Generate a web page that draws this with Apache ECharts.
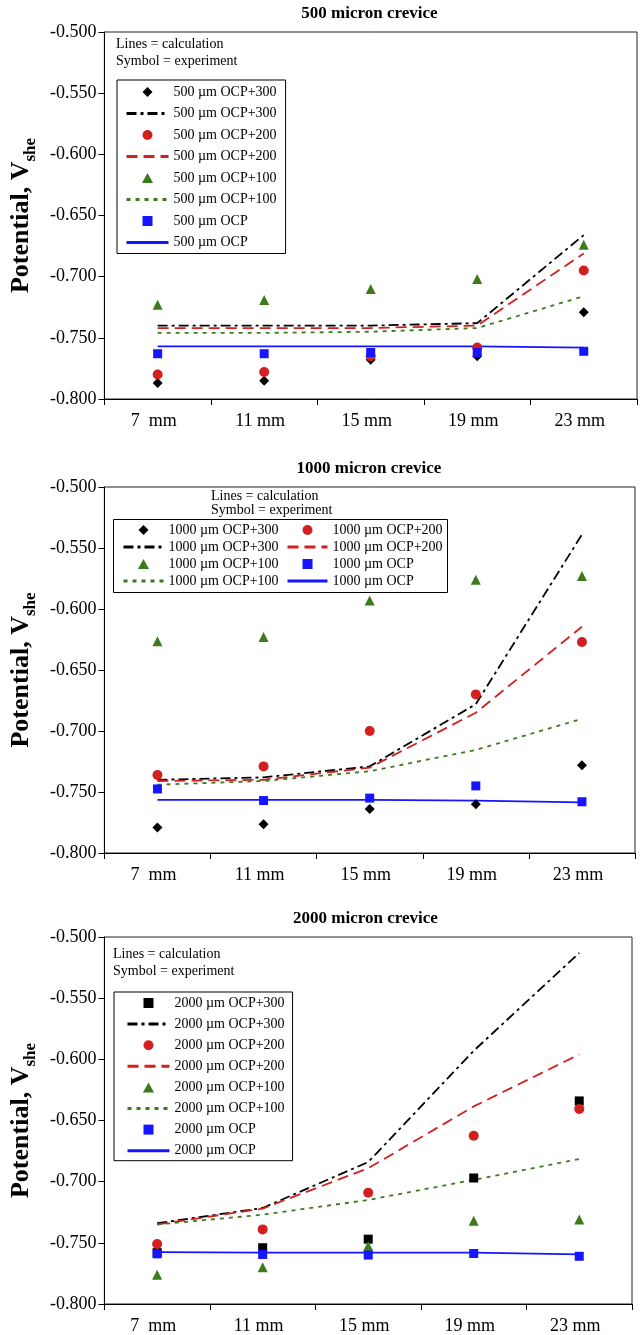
<!DOCTYPE html>
<html>
<head>
<meta charset="utf-8">
<script src="https://cdn.jsdelivr.net/npm/echarts@6/dist/echarts.min.js"></script>
<style>html,body{margin:0;padding:0;background:#fff;}#c{width:640px;height:1335px;}</style>
</head>
<body>
<div id="c"></div>
<script>
// ---------- data ----------
const categories = ['7  mm', '11 mm', '15 mm', '19 mm', '23 mm'];
const yMin = -0.8, yMax = -0.5, yStep = 0.05;
const panelTitles = ['500 micron crevice', '1000 micron crevice', '2000 micron crevice'];
const panelSizes = ['500', '1000', '2000'];

// 500 micron
const exp500_300 = [-0.787, -0.785, -0.768, -0.765, -0.729];
const calc500_300 = [-0.740, -0.740, -0.740, -0.738, -0.666];
const exp500_200 = [-0.780, -0.778, -0.765, -0.758, -0.695];
const calc500_200 = [-0.742, -0.742, -0.742, -0.740, -0.681];
const exp500_100 = [-0.723, -0.719, -0.710, -0.702, -0.674];
const calc500_100 = [-0.746, -0.746, -0.745, -0.742, -0.716];
const exp500_ocp = [-0.763, -0.763, -0.762, -0.762, -0.761];
const calc500_ocp = [-0.757, -0.757, -0.757, -0.757, -0.758];

// 1000 micron
const exp1000_300 = [-0.779, -0.7765, -0.764, -0.760, -0.728];
const calc1000_300 = [-0.740, -0.738, -0.729, -0.678, -0.539];
const exp1000_200 = [-0.736, -0.729, -0.700, -0.670, -0.627];
const calc1000_200 = [-0.741, -0.740, -0.730, -0.685, -0.6145];
const exp1000_100 = [-0.6265, -0.623, -0.593, -0.576, -0.573];
const calc1000_100 = [-0.744, -0.741, -0.733, -0.7155, -0.690];
const exp1000_ocp = [-0.7475, -0.757, -0.755, -0.745, -0.758];
const calc1000_ocp = [-0.7565, -0.7565, -0.7565, -0.757, -0.7585];

// 2000 micron
const exp2000_300 = [-0.758, -0.754, -0.747, -0.697, -0.634];
const calc2000_300 = [-0.734, -0.7215, -0.684, -0.593, -0.513];
const exp2000_200 = [-0.751, -0.739, -0.709, -0.6625, -0.6405];
const calc2000_200 = [-0.735, -0.722, -0.689, -0.6385, -0.596];
const exp2000_100 = [-0.776, -0.770, -0.7525, -0.732, -0.731];
const calc2000_100 = [-0.735, -0.727, -0.715, -0.6985, -0.6815];
const exp2000_ocp = [-0.759, -0.7595, -0.760, -0.7587, -0.761];
const calc2000_ocp = [-0.7576, -0.758, -0.758, -0.758, -0.7595];

const levels = ['OCP+300', 'OCP+200', 'OCP+100', 'OCP'];
const expData = [
  [exp500_300, exp500_200, exp500_100, exp500_ocp],
  [exp1000_300, exp1000_200, exp1000_100, exp1000_ocp],
  [exp2000_300, exp2000_200, exp2000_100, exp2000_ocp]
];
const calcData = [
  [calc500_300, calc500_200, calc500_100, calc500_ocp],
  [calc1000_300, calc1000_200, calc1000_100, calc1000_ocp],
  [calc2000_300, calc2000_200, calc2000_100, calc2000_ocp]
];

// ---------- styles ----------
const FONT = 'Liberation Serif';
const levelColor = ['#000000', '#d21f1f', '#3c7a1c', '#1515ff'];
const levelDash = [[10, 4, 3, 4], [11, 6], [4, 5], 'solid'];
const levelSymbol = [
  ['diamond', 'circle', 'triangle', 'rect'],
  ['diamond', 'circle', 'triangle', 'rect'],
  ['rect', 'circle', 'triangle', 'rect']
];
const symSize = {diamond: 10, circle: 10, triangle: 10, rect: 9};
// legend icons that keep their aspect inside the wide legend slot
const legendIcon = {
  diamond: 'path://M5 0L10 5L5 10L0 5Z',
  circle: 'circle',
  triangle: 'path://M5 0L10 9L0 9Z',
  rect: 'path://M0 0L9 0L9 9L0 9Z'
};

const grids = [
  {left: 102, top: 32, width: 535, height: 367},
  {left: 103, top: 487, width: 532, height: 366},
  {left: 99, top: 937, width: 533, height: 368}
];

const xAxes = [], yAxes = [], series = [], legends = [], graphics = [];

grids.forEach((g, p) => {
  g.show = true; g.borderColor = '#222'; g.borderWidth = 1;
  xAxes.push({
    type: 'category', gridIndex: p, data: categories, boundaryGap: true,
    axisLine: {lineStyle: {color: '#000', width: 1}},
    axisTick: {show: true, length: 6, lineStyle: {color: '#000'}},
    axisLabel: {interval: 0, margin: 13, color: '#000', fontFamily: FONT, fontSize: 18,
      padding: [0, 8, 0, 0]},
    splitLine: {show: false}
  });
  yAxes.push({
    type: 'value', gridIndex: p, min: yMin, max: yMax, interval: yStep,
    axisLine: {show: true, lineStyle: {color: '#000', width: 1}},
    axisTick: {show: true, length: 6, lineStyle: {color: '#000'}},
    axisLabel: {margin: 8, color: '#000', fontFamily: FONT, fontSize: 18,
      formatter: v => v.toFixed(3)},
    splitLine: {show: false},
    name: '{a|Potential, V}{s|she}',
    nameLocation: 'middle', nameGap: 60,
    nameTextStyle: {
      rich: {
        a: {fontFamily: FONT, fontSize: 26, fontWeight: 'bold', color: '#000', verticalAlign: 'bottom', lineHeight: 30, padding: [0, 0, 5, 0]},
        s: {fontFamily: FONT, fontSize: 17, fontWeight: 'bold', color: '#000', verticalAlign: 'bottom', lineHeight: 30}
      }
    }
  });

  const names = [];
  levels.forEach((lv, i) => {
    const base = panelSizes[p] + ' \u00b5m ' + lv;
    const lineName = base + ' ';
    series.push({
      name: lineName, type: 'line', xAxisIndex: p, yAxisIndex: p,
      data: calcData[p][i], symbol: 'none', showSymbol: false, smooth: false, z: 2,
      lineStyle: {color: levelColor[i], width: 1.8, type: levelDash[i]},
      itemStyle: {color: levelColor[i]}
    });
    const sym = levelSymbol[p][i];
    series.push({
      name: base, type: 'scatter', xAxisIndex: p, yAxisIndex: p,
      data: expData[p][i], symbol: sym, symbolSize: symSize[sym], z: 3,
      itemStyle: {color: levelColor[i], opacity: 1}
    });
    names.push([{name: base, icon: legendIcon[sym]},
                {name: lineName, itemStyle: {color: 'rgba(0,0,0,0)', borderWidth: 0, opacity: 0}}]);
  });

  const common = {
    itemWidth: 42, itemHeight: 10, selectedMode: false, symbolKeepAspect: true,
    borderColor: '#000', borderWidth: 1, backgroundColor: '#fff', z: 6,
    lineStyle: {width: 3},
    formatter: n => n.trim(),
    textStyle: {fontFamily: FONT, fontSize: 14, color: '#000', lineHeight: 14}
  };
  if (p === 1) {
    graphics.push({
      type: 'rect', z: 5,
      shape: {x: 113.5, y: 519.5, width: 334, height: 73},
      style: {fill: '#fff', stroke: '#000', lineWidth: 1}
    });
    const colA = [names[0][0], names[0][1], names[2][0], names[2][1]];
    const colB = [names[1][0], names[1][1], names[3][0], names[3][1]];
    [[122, colA], [286, colB]].forEach(([lx, d]) => {
      legends.push(Object.assign({}, common, {
        orient: 'vertical', left: lx, top: 523, padding: 0, itemGap: 3, itemWidth: 40,
        borderWidth: 0, backgroundColor: 'transparent', data: d
      }));
    });
  } else {
    const flat = [];
    names.forEach(n => { flat.push(n[0]); flat.push(n[1]); });
    legends.push(Object.assign({}, common, p === 0 ? {
      orient: 'vertical', left: 117, top: 80, padding: [5, 9, 4, 8], itemGap: 7.5, data: flat
    } : {
      orient: 'vertical', left: 114, top: 992, padding: [4, 8, 3, 12], itemGap: 7.1, data: flat
    }));
  }

  const cx = g.left + g.width / 2;
  graphics.push({
    type: 'text', x: cx, y: g.top - 18,
    style: {text: panelTitles[p], font: 'bold 17px "' + FONT + '"', fill: '#000', align: 'center', verticalAlign: 'middle'}
  });
});

const notes = [
  {x: 116, y: 44, lh: 17},
  {x: 211, y: 496, lh: 14.5},
  {x: 113, y: 954, lh: 17}
];
notes.forEach(n => {
  graphics.push({
    type: 'text', x: n.x, y: n.y - n.lh / 2,
    style: {text: 'Lines = calculation\nSymbol = experiment', font: '14px "' + FONT + '"',
      lineHeight: n.lh, fill: '#000', align: 'left', verticalAlign: 'top'}
  });
});

const chart = echarts.init(document.getElementById('c'), null, {renderer: 'canvas'});
chart.setOption({
  animation: false,
  backgroundColor: '#fff',
  grid: grids, xAxis: xAxes, yAxis: yAxes, series: series, legend: legends,
  graphic: graphics
});
</script>
</body>
</html>
